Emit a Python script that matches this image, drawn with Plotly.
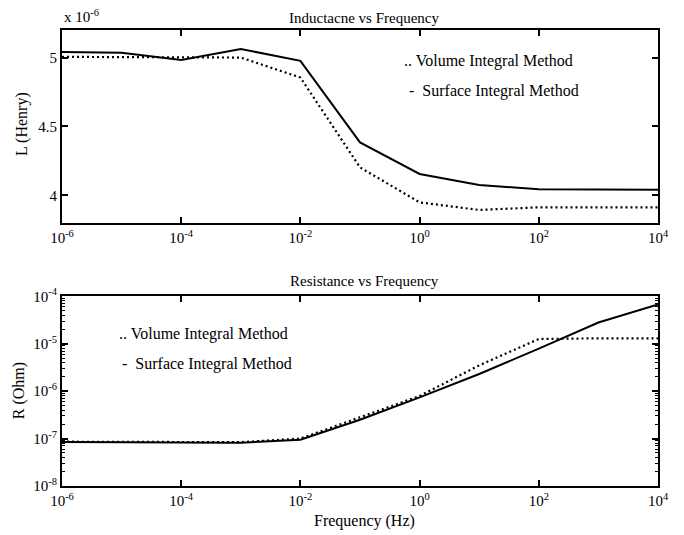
import plotly.graph_objects as go

# Data
freq_hz = [1e-6, 1e-5, 1e-4, 1e-3, 1e-2, 1e-1, 1e0, 1e1, 1e2, 1e3, 1e4]
L_surface_uH = [5.04, 5.035, 4.983, 5.062, 4.976, 4.384, 4.155, 4.075, 4.045, 4.04, 4.04]
L_volume_uH = [5.005, 5.004, 5.0, 5.0, 4.855, 4.203, 3.949, 3.894, 3.913, 3.913, 3.913]
R_surface_ohm = [8.5e-8, 8.4e-8, 8.2e-8, 8.2e-8, 9.5e-8, 2.5e-7, 7.4e-7, 2.3e-6, 7.9e-6, 2.8e-5, 6.7e-5]
R_volume_ohm = [8.6e-8, 8.6e-8, 8.5e-8, 8.4e-8, 1.0e-7, 2.8e-7, 7.9e-7, 3.5e-6, 1.26e-5, 1.3e-5, 1.3e-5]

x_tickvals = [1e-6, 1e-4, 1e-2, 1e0, 1e2, 1e4]
x_ticktext = ["10<sup>-6</sup>", "10<sup>-4</sup>", "10<sup>-2</sup>", "10<sup>0</sup>", "10<sup>2</sup>", "10<sup>4</sup>"]
L_tickvals = [4, 4.5, 5]
L_ticktext = ["4", "4.5", "5"]
R_tickvals = [1e-8, 1e-7, 1e-6, 1e-5, 1e-4]
R_ticktext = ["10<sup>-8</sup>", "10<sup>-7</sup>", "10<sup>-6</sup>", "10<sup>-5</sup>", "10<sup>-4</sup>"]

FONT = "Liberation Serif"
fig = go.Figure()

solid = dict(color="black", width=2)
dotted = dict(color="black", width=2.2, dash="2px,3px")
fig.add_trace(go.Scatter(x=freq_hz, y=L_surface_uH, mode="lines", line=solid,
                         xaxis="x", yaxis="y", showlegend=False))
fig.add_trace(go.Scatter(x=freq_hz, y=L_volume_uH, mode="lines", line=dotted,
                         xaxis="x", yaxis="y", showlegend=False))
fig.add_trace(go.Scatter(x=freq_hz, y=R_surface_ohm, mode="lines", line=solid,
                         xaxis="x2", yaxis="y2", showlegend=False))
fig.add_trace(go.Scatter(x=freq_hz, y=R_volume_ohm, mode="lines", line=dotted,
                         xaxis="x2", yaxis="y2", showlegend=False))

axis_common = dict(showline=True, linecolor="black", linewidth=2, mirror="ticks",
                   ticks="inside", ticklen=6, tickwidth=1.5, tickcolor="black",
                   showgrid=False, zeroline=False,
                   tickfont=dict(family=FONT, size=15, color="black"))

# minor log ticks (2..9 within each decade) on the resistance axis
minor_vals = [m * 10.0 ** e for e in range(-8, -4) for m in range(2, 10)]
minor_ticks = dict(tickmode="array", tickvals=minor_vals, ticks="inside", ticklen=3,
                   tickwidth=1, tickcolor="black", showgrid=False)

# page has an 8px body margin; figure sized to fit inside the window
fig.update_layout(
    width=676, height=527,
    margin=dict(l=54, r=26, t=19, b=49),
    paper_bgcolor="white", plot_bgcolor="white",
    font=dict(family=FONT, size=16, color="black"),
    xaxis=dict(type="log", range=[-6, 4], domain=[0, 1], anchor="y",
               tickvals=x_tickvals, ticktext=x_ticktext, **axis_common),
    yaxis=dict(range=[3.8, 5.2], domain=[0.577, 1], anchor="x",
               tickvals=L_tickvals, ticktext=L_ticktext, **axis_common),
    xaxis2=dict(type="log", range=[-6, 4], domain=[0, 1], anchor="y2",
                tickvals=x_tickvals, ticktext=x_ticktext, **axis_common),
    yaxis2=dict(type="log", range=[-8, -4], domain=[0, 0.416], anchor="x2",
                tickvals=R_tickvals, ticktext=R_ticktext, minor=minor_ticks, **axis_common),
)

ann = []
def A(text, x, y, xanchor="left", size=16, angle=0, yanchor="middle"):
    ann.append(dict(text=text, x=x, y=y, xref="paper", yref="paper", xanchor=xanchor,
                    yanchor=yanchor, showarrow=False, textangle=angle,
                    font=dict(family=FONT, size=size, color="black")))

A("Inductacne vs Frequency", 0.507, 1.048, xanchor="center", size=15, yanchor="top")
A("Resistance vs Frequency", 0.507, 0.449, xanchor="center", size=15)
A("x 10<sup>-6</sup>", 0.0, 1.03, size=15)
A(".. Volume Integral Method", 0.570, 0.932)
A("-  Surface Integral Method", 0.579, 0.867)
A(".. Volume Integral Method", 0.092, 0.333)
A("-  Surface Integral Method", 0.097, 0.268)
A("L (Henry)", -0.066, 0.793, xanchor="center", angle=-90)
A("R (Ohm)", -0.073, 0.209, xanchor="center", angle=-90)
A("Frequency (Hz)", 0.507, -0.076, xanchor="center")
fig.update_layout(annotations=ann)

fig.write_html("out.html")
